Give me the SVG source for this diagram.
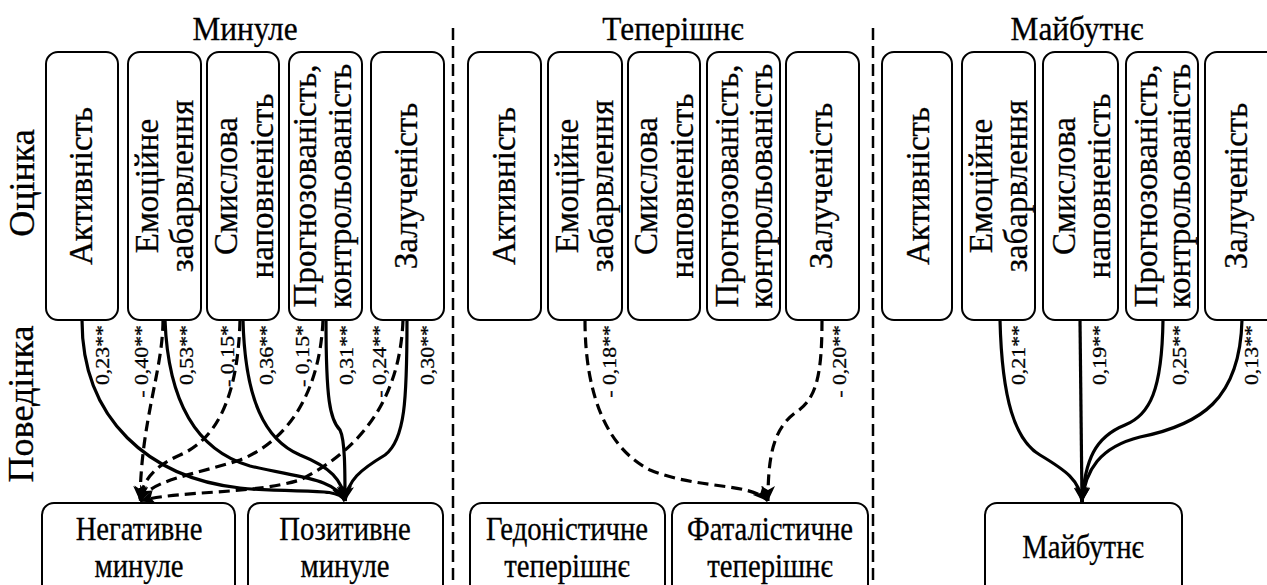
<svg xmlns="http://www.w3.org/2000/svg" width="1267" height="585" viewBox="0 0 1267 585">
<style>
text{font-family:'Liberation Serif','Times New Roman',Times,serif;fill:#000;stroke:#000;stroke-width:0.3}
.box{fill:#fff;stroke:#000;stroke-width:2}
.bt{font-size:33px;text-anchor:middle}
.ttl{font-size:33px;text-anchor:middle}
.side{font-size:36px;text-anchor:middle}
.bot{font-size:33px;text-anchor:middle}
.coef{font-size:19px;text-anchor:end}
.sol{fill:none;stroke:#000;stroke-width:3.2;marker-end:url(#ah)}
.das{fill:none;stroke:#000;stroke-width:3.2;stroke-dasharray:11 6;marker-end:url(#ah)}
.div{stroke:#000;stroke-width:2.5;stroke-dasharray:12 6}
</style>
<defs>
<marker id="ah" markerUnits="userSpaceOnUse" markerWidth="16" markerHeight="14" refX="15" refY="7" orient="auto">
<path d="M0,0 L15,7 L0,14 L4,7 z" fill="#000"/>
</marker>
</defs>
<rect width="1267" height="585" fill="#fff"/>

<g id="dividers">
<line class="div" x1="453" y1="28" x2="453" y2="585"/>
<line class="div" x1="873" y1="28" x2="873" y2="585"/>
</g>

<g id="titles">
<text class="ttl" transform="translate(245,40) scale(0.95,1)">Минуле</text>
<text class="ttl" transform="translate(673,40) scale(0.95,1)">Теперішнє</text>
<text class="ttl" transform="translate(1077,40) scale(0.95,1)">Майбутнє</text>
<text class="side" transform="translate(34,183) rotate(-90)">Оцінка</text>
<text class="side" transform="translate(33,404) rotate(-90)">Поведінка</text>
</g>

<!-- Past -->
<g id="p-akt"><rect class="box" x="46" y="52" width="72" height="268" rx="12"/><text class="bt" transform="translate(92,186) rotate(-90)">Активність</text></g>
<g id="p-emo"><rect class="box" x="128" y="52" width="73" height="268" rx="12"/><text class="bt" transform="translate(158,186) rotate(-90)">Емоційне</text><text class="bt" transform="translate(193,186) rotate(-90)">забарвлення</text></g>
<g id="p-smy"><rect class="box" x="207" y="52" width="72" height="268" rx="12"/><text class="bt" transform="translate(237,186) rotate(-90)">Смислова</text><text class="bt" transform="translate(273,186) rotate(-90)">наповненість</text></g>
<g id="p-pro"><rect class="box" x="289" y="52" width="73" height="268" rx="12"/><text class="bt" transform="translate(316,186) rotate(-90)">Прогнозованість,</text><text class="bt" transform="translate(351,186) rotate(-90)">контрольованість</text></g>
<g id="p-zal"><rect class="box" x="371" y="52" width="73" height="268" rx="12"/><text class="bt" transform="translate(417,186) rotate(-90)">Залученість</text></g>

<!-- Present -->
<g id="n-akt"><rect class="box" x="468" y="52" width="73" height="268" rx="12"/><text class="bt" transform="translate(515,186) rotate(-90)">Активність</text></g>
<g id="n-emo"><rect class="box" x="548" y="52" width="74" height="268" rx="12"/><text class="bt" transform="translate(578,186) rotate(-90)">Емоційне</text><text class="bt" transform="translate(613,186) rotate(-90)">забарвлення</text></g>
<g id="n-smy"><rect class="box" x="628" y="52" width="72" height="268" rx="12"/><text class="bt" transform="translate(657,186) rotate(-90)">Смислова</text><text class="bt" transform="translate(693,186) rotate(-90)">наповненість</text></g>
<g id="n-pro"><rect class="box" x="707" y="52" width="73" height="268" rx="12"/><text class="bt" transform="translate(738,186) rotate(-90)">Прогнозованість,</text><text class="bt" transform="translate(772,186) rotate(-90)">контрольованість</text></g>
<g id="n-zal"><rect class="box" x="786" y="52" width="73" height="268" rx="12"/><text class="bt" transform="translate(832,186) rotate(-90)">Залученість</text></g>

<!-- Future -->
<g id="f-akt"><rect class="box" x="882" y="52" width="70" height="268" rx="12"/><text class="bt" transform="translate(929,186) rotate(-90)">Активність</text></g>
<g id="f-emo"><rect class="box" x="962" y="52" width="73" height="268" rx="12"/><text class="bt" transform="translate(992,186) rotate(-90)">Емоційне</text><text class="bt" transform="translate(1027,186) rotate(-90)">забарвлення</text></g>
<g id="f-smy"><rect class="box" x="1043" y="52" width="75" height="268" rx="12"/><text class="bt" transform="translate(1075,186) rotate(-90)">Смислова</text><text class="bt" transform="translate(1110,186) rotate(-90)">наповненість</text></g>
<g id="f-pro"><rect class="box" x="1126" y="52" width="72" height="268" rx="12"/><text class="bt" transform="translate(1157,186) rotate(-90)">Прогнозованість,</text><text class="bt" transform="translate(1190,186) rotate(-90)">контрольованість</text></g>
<g id="f-zal"><rect class="box" x="1205" y="52" width="73" height="268" rx="12"/><text class="bt" transform="translate(1247,186) rotate(-90)">Залученість</text></g>

<!-- Bottom boxes -->
<g id="b-neg"><rect class="box" x="42" y="503" width="193" height="95" rx="12"/><text class="bot" transform="translate(139,540) scale(0.87,1)">Негативне</text><text class="bot" transform="translate(139,577) scale(0.87,1)">минуле</text></g>
<g id="b-poz"><rect class="box" x="248" y="503" width="195" height="95" rx="12"/><text class="bot" transform="translate(345,540) scale(0.87,1)">Позитивне</text><text class="bot" transform="translate(345,577) scale(0.87,1)">минуле</text></g>
<g id="b-ged"><rect class="box" x="470" y="503" width="195" height="95" rx="12"/><text class="bot" transform="translate(567,540) scale(0.87,1)">Гедоністичне</text><text class="bot" transform="translate(567,577) scale(0.87,1)">теперішнє</text></g>
<g id="b-fat"><rect class="box" x="672" y="503" width="196" height="95" rx="12"/><text class="bot" transform="translate(770,540) scale(0.87,1)">Фаталістичне</text><text class="bot" transform="translate(770,577) scale(0.87,1)">теперішнє</text></g>
<g id="b-maj"><rect class="box" x="985" y="503" width="197" height="95" rx="12"/><text class="bot" transform="translate(1083,558) scale(0.87,1)">Майбутнє</text></g>

<g id="connectors">
<path class="sol" d="M82,320 C82,420 150,478 240,488 C300,494 338,486 345,501"/>
<path class="das" d="M163,320 C163,370 141,420 140,501"/>
<path class="sol" d="M165,320 C168,400 195,450 250,466 C300,478 335,478 345,501"/>
<path class="das" d="M240,320 C238,400 215,440 180,455 C155,466 142,480 140,501"/>
<path class="sol" d="M243,320 C245,400 265,440 300,455 C330,467 343,480 345,501"/>
<path class="das" d="M323,320 C320,390 290,440 240,460 C190,476 150,480 140,501"/>
<path class="sol" d="M326,320 C326,400 330,420 340,430 C345,440 345,470 345,501"/>
<path class="das" d="M403,320 C400,400 360,450 300,480 C250,495 180,490 140,501"/>
<path class="sol" d="M407,320 C407,400 405,440 385,455 C360,470 348,480 345,501"/>

<path class="das" d="M585,320 C585,400 610,450 650,470 C700,490 750,482 768,501"/>
<path class="das" d="M822,320 C822,380 815,400 795,413 C772,430 768,460 768,501"/>

<path class="sol" d="M1000,320 C1002,400 1015,440 1040,455 C1065,470 1080,480 1082,502"/>
<path class="sol" d="M1080,320 L1082,502"/>
<path class="sol" d="M1163,320 C1162,390 1150,415 1125,425 C1095,437 1085,460 1082,502"/>
<path class="sol" d="M1242,320 C1240,400 1200,425 1140,437 C1100,447 1085,470 1082,502"/>
</g>

<g id="coefficients">
<text class="coef" transform="translate(109,325) rotate(-90) scale(1.15,1)">0,23**</text>
<text class="coef" transform="translate(148,325) rotate(-90) scale(1.15,1)">- 0,40**</text>
<text class="coef" transform="translate(193,325) rotate(-90) scale(1.15,1)">0,53**</text>
<text class="coef" transform="translate(234,325) rotate(-90) scale(1.15,1)">- 0,15*</text>
<text class="coef" transform="translate(273,325) rotate(-90) scale(1.15,1)">0,36**</text>
<text class="coef" transform="translate(309,325) rotate(-90) scale(1.15,1)">- 0,15*</text>
<text class="coef" transform="translate(353,325) rotate(-90) scale(1.15,1)">0,31**</text>
<text class="coef" transform="translate(386,325) rotate(-90) scale(1.15,1)">- 0,24**</text>
<text class="coef" transform="translate(434,325) rotate(-90) scale(1.15,1)">0,30**</text>
<text class="coef" transform="translate(616,325) rotate(-90) scale(1.15,1)">- 0,18**</text>
<text class="coef" transform="translate(846,325) rotate(-90) scale(1.15,1)">- 0,20**</text>
<text class="coef" transform="translate(1025,325) rotate(-90) scale(1.15,1)">0,21**</text>
<text class="coef" transform="translate(1106,325) rotate(-90) scale(1.15,1)">0,19**</text>
<text class="coef" transform="translate(1186,325) rotate(-90) scale(1.15,1)">0,25**</text>
<text class="coef" transform="translate(1258,325) rotate(-90) scale(1.15,1)">0,13**</text>
</g>
</svg>
